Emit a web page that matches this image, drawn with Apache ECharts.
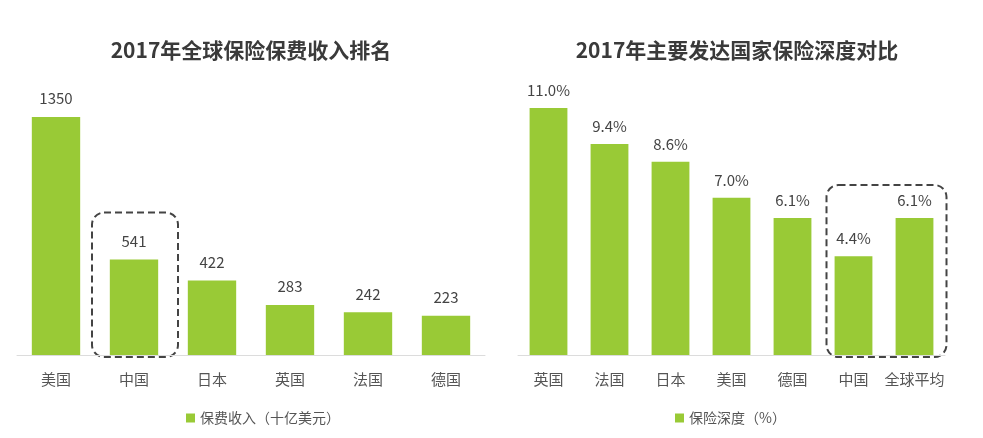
<!DOCTYPE html>
<html><head><meta charset="utf-8">
<script src="https://cdn.jsdelivr.net/npm/echarts@6/dist/echarts.min.js"></script>
<style>html,body{margin:0;padding:0;background:#fff}#c{width:983px;height:438px}</style>
</head><body><div id="c"></div>
<script>
const leftTitle = '2017年全球保险保费收入排名';
const leftCategories = ['美国','中国','日本','英国','法国','德国'];
const leftValues = [1350, 541, 422, 283, 242, 223];
const leftSeriesName = '保费收入（十亿美元）';

const rightTitle = '2017年主要发达国家保险深度对比';
const rightCategories = ['英国','法国','日本','美国','德国','中国','全球平均'];
const rightValues = [11.0, 9.4, 8.6, 7.0, 6.1, 4.4, 6.1];
const rightSeriesName = '保险深度（%）';

const GREEN = '#99ca36';
const FONT = '"Noto Sans CJK SC", "Noto Sans", sans-serif';

const chart = echarts.init(document.getElementById('c'), null, {renderer:'canvas'});
const axisCommon = {
  axisLine:{show:true, lineStyle:{color:'#dcdcdc', width:1}},
  axisTick:{show:false},
  axisLabel:{color:'#555', fontSize:15, fontFamily:FONT, margin:17, interval:0}
};
chart.setOption({
  animation:false,
  textStyle:{fontFamily:FONT},
  title:[
    {text:leftTitle, left:246, top:35, textAlign:'center', textStyle:{fontSize:21, fontWeight:'bold', color:'#3a3a3a', fontFamily:FONT}},
    {text:rightTitle, left:732, top:35, textAlign:'center', textStyle:{fontSize:21, fontWeight:'bold', color:'#3a3a3a', fontFamily:FONT}}
  ],
  legend:[
    {data:[leftSeriesName], left:181, top:406, icon:'rect', itemWidth:9, itemHeight:9, itemGap:4,
     textStyle:{color:'#555', fontSize:14, fontFamily:FONT}, selectedMode:false},
    {data:[rightSeriesName], left:670, top:406, icon:'rect', itemWidth:9, itemHeight:9, itemGap:4,
     textStyle:{color:'#555', fontSize:14, fontFamily:FONT}, selectedMode:false}
  ],
  grid:[
    {left:17, right:498, top:90.5, bottom:83},
    {left:518, right:38, top:85.5, bottom:83}
  ],
  xAxis:[
    Object.assign({type:'category', gridIndex:0, data:leftCategories}, axisCommon),
    Object.assign({type:'category', gridIndex:1, data:rightCategories}, axisCommon)
  ],
  yAxis:[
    {type:'value', gridIndex:0, min:0, max:1500, show:false, splitLine:{show:false}},
    {type:'value', gridIndex:1, min:0, max:12, show:false, splitLine:{show:false}}
  ],
  series:[
    {name:leftSeriesName, type:'bar', xAxisIndex:0, yAxisIndex:0, data:leftValues, barWidth:'62%',
     itemStyle:{color:GREEN},
     label:{show:true, position:'top', distance:11, color:'#444', fontSize:15, fontFamily:FONT}},
    {name:rightSeriesName, type:'bar', xAxisIndex:1, yAxisIndex:1, data:rightValues, barWidth:'62%',
     itemStyle:{color:GREEN},
     label:{show:true, position:'top', distance:10, color:'#444', fontSize:15, fontFamily:FONT,
            formatter:p=>p.value.toFixed(1)+'%'}}
  ]
});

// Dashed highlight boxes placed from the axes' own scales
function px(grid, cat, val){ return chart.convertToPixel({gridIndex:grid}, [cat, val]); }
const cn = px(0, '中国', 541), cnBase = px(0, '中国', 0);
const r1 = px(1, '中国', 4.4), r2 = px(1, '全球平均', 6.1), rBase = px(1, '中国', 0);
const boxStyle = {stroke:'#444', lineWidth:2, lineDash:[7,4], fill:'none'};
chart.setOption({graphic:[
  {type:'rect', shape:{x:cn[0]-42, y:cn[1]-47, width:86, height:cnBase[1]-cn[1]+49, r:12}, style:boxStyle, silent:true},
  {type:'rect', shape:{x:r1[0]-27, y:r2[1]-33, width:(r2[0]-r1[0])+59, height:rBase[1]-r2[1]+35, r:12}, style:boxStyle, silent:true}
]});
</script></body></html>
